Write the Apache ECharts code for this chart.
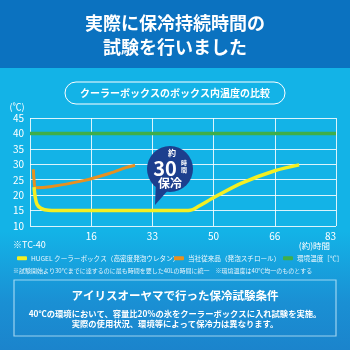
<!DOCTYPE html>
<html>
<head>
<meta charset="utf-8">
<script src="https://cdn.jsdelivr.net/npm/echarts@6/dist/echarts.min.js"></script>
<style>
  html, body { margin: 0; padding: 0; }
  #chart { width: 350px; height: 350px; }
</style>
</head>
<body>
<div id="chart"></div>
<script>
// Hours since start of test (x) and box-internal temperature in ℃ (y)
const hugelSeries = [
  [1.1, 22.6], [1.4, 19.5], [1.9, 17.0], [3.0, 15.7], [5.0, 15.1], [10, 15.0],
  [20, 15.0], [30, 15.0], [40, 15.0], [43.5, 15.1], [45.6, 16.3], [50, 19.3],
  [57.4, 23.9], [66.4, 27.9], [73, 29.8]
];
const conventionalSeries = [
  [0.9, 28.4], [1.1, 25.0], [1.5, 22.4], [5.4, 22.7], [14.5, 24.7],
  [21.7, 27.1], [26.2, 29.0], [28.5, 29.7]
];
const ambientSeries = [[0, 40], [83, 40]];

const xTickLabels = ['', '16', '33', '50', '66', '83'];
const yTicks = { min: 10, max: 45, step: 5 };
const xRange = { min: 0, max: 83, step: 16.6 };

const seriesNames = [
  'HUGEL クーラーボックス（高密度発泡ウレタン）',
  '当社従来品（発泡スチロール）',
  '環境温度［℃］'
];
const legendLefts = [17, 174, 283];

const FONT = '"Noto Sans CJK JP", "Noto Sans", sans-serif';
const chart = echarts.init(document.getElementById('chart'));

const txt = (x, y, text, size, weight, align, extra) => Object.assign({
  type: 'text', x: x, y: y, z: 10,
  style: Object.assign({
    text: text, fill: '#ffffff', font: (weight || 'normal') + ' ' + size + 'px ' + FONT,
    textAlign: align || 'center', textVerticalAlign: 'middle'
  }, extra || {})
});

chart.setOption({
  animation: false,
  grid: { left: 30, right: 14, top: 118, bottom: 124 },
  xAxis: {
    type: 'value', min: xRange.min, max: xRange.max, interval: xRange.step,
    axisLine: { show: false }, axisTick: { show: false },
    axisLabel: {
      color: '#ffffff', fontSize: 10, fontFamily: FONT, margin: 5,
      alignMaxLabel: 'right',
      formatter: v => xTickLabels[Math.round(v / xRange.step)] || ''
    },
    splitLine: { show: true, lineStyle: { color: 'rgba(255,255,255,0.85)', width: 1 } }
  },
  yAxis: {
    type: 'value', min: yTicks.min, max: yTicks.max, interval: yTicks.step,
    axisLine: { show: false }, axisTick: { show: false },
    axisLabel: { color: '#ffffff', fontSize: 10, fontFamily: FONT, margin: 6 },
    splitLine: { show: true, lineStyle: { color: 'rgba(255,255,255,0.85)', width: 1 } }
  },
  legend: seriesNames.map((name, i) => ({
    left: legendLefts[i], top: 255, itemWidth: 10, itemHeight: 4, itemGap: 0,
    icon: 'roundRect', padding: 0,
    textStyle: { color: '#eef8fd', fontSize: 6.6, fontFamily: FONT, padding: [0, 0, 0, -1] },
    data: [name]
  })),
  series: [
    {
      name: seriesNames[2], type: 'line', data: ambientSeries, symbol: 'none', z: 3,
      lineStyle: { color: '#3fae49', width: 3.5 }, itemStyle: { color: '#3fae49' }
    },
    {
      name: seriesNames[1], type: 'line', data: conventionalSeries, symbol: 'none', smooth: 0.3, z: 4,
      lineStyle: { color: '#e8901f', width: 3 }, itemStyle: { color: '#e8901f' }
    },
    {
      name: seriesNames[0], type: 'line', data: hugelSeries, symbol: 'none', smooth: 0.3, z: 5,
      lineStyle: { color: '#f4ef22', width: 3.5 }, itemStyle: { color: '#f4ef22' }
    }
  ],
  graphic: [
    // background bands
    { type: 'rect', z: -10, shape: { x: 0, y: 0, width: 350, height: 350 },
      style: { fill: new echarts.graphic.LinearGradient(0, 0, 0, 1, [
        { offset: 0, color: '#13b3e7' }, { offset: 0.66, color: '#13b3e7' },
        { offset: 0.86, color: '#1a90d4' }, { offset: 1, color: '#1b84cc' }
      ]) } },
    { type: 'rect', z: -9, shape: { x: 0, y: 0, width: 350, height: 68 }, style: { fill: '#0b72c0' } },

    // heading
    txt(175, 23, '実際に保冷持続時間の', 18, 'bold'),
    txt(175, 47, '試験を行いました', 18, 'bold'),

    // pill caption
    { type: 'rect', z: 10, shape: { x: 65, y: 82, width: 220, height: 22, r: 11 },
      style: { fill: 'none', stroke: '#ffffff', lineWidth: 1 } },
    txt(175, 93, 'クーラーボックスのボックス内温度の比較', 10, 'bold'),

    // axis captions
    txt(17, 107, '(℃)', 9, 'normal'),
    txt(13, 245, '※TC-40', 9, 'normal', 'left'),
    txt(330, 246, '(約)時間', 8.5, 'normal', 'right'),

    // footnote
    txt(13, 271, '※試験開始より30℃までに達するのに最も時間を要した40Lの時間に統一　※環境温度は40℃均一のものとする', 6, 'normal', 'left', { fill: '#e6f4fb' }),

    // badge
    { type: 'polygon', z: 8, shape: { points: [[156, 180], [170, 188], [155, 205]] }, style: { fill: '#1c3f8e' } },
    { type: 'circle', z: 8, shape: { cx: 170, cy: 169, r: 23 }, style: { fill: '#1c3f8e' } },
    txt(172, 153, '約', 8, 'bold'),
    txt(165, 168, '30', 20, 'bold'),
    txt(184, 163, '時', 6, 'bold'),
    txt(184, 170, '間', 6, 'bold'),
    txt(170, 183, '保冷', 12, 'bold'),

    // test conditions box
    { type: 'rect', z: 10, shape: { x: 14, y: 280, width: 322, height: 56 },
      style: { fill: 'none', stroke: 'rgba(200,235,250,0.75)', lineWidth: 1.2 } },
    txt(175, 296, 'アイリスオーヤマで行った保冷試験条件', 11.5, 'bold'),
    txt(175, 314, '40℃の環境において、容量比20%の氷をクーラーボックスに入れ試験を実施。', 8.3, 'bold'),
    txt(175, 324, '実際の使用状況、環境等によって保冷力は異なります。', 8.3, 'bold')
  ]
});
</script>
</body>
</html>
